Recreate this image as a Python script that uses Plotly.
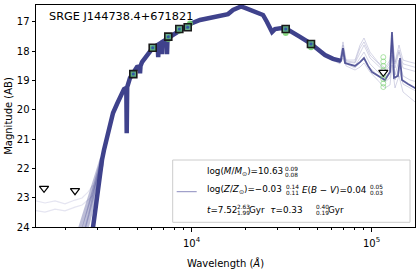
import plotly.graph_objects as go
import math

# ---------------- data ----------------
# median model spectrum
spec_wave = [2560, 2800, 2948, 3063, 3183, 3265, 3393, 3526, 3664, 3856, 4058, 4217, 4343, 4365, 4393,
             4553, 4732, 4980, 5142, 5175, 5209, 5309, 5660, 6035, 6432, 6490, 6531, 6573, 6822, 6857,
             6892, 7262, 7309, 7356, 7596, 8095, 8633, 9202, 9810, 11150, 12670, 14400, 15950, 17010,
             18130, 18840, 19830, 21690, 23410, 24960, 26270, 27300, 28010, 29100, 31830, 33930, 36640,
             40070, 45520, 50450, 55170, 61110, 66830, 67700, 69450, 71250, 80970, 86330, 90850, 95630,
             100650, 108660, 118850, 126700, 129980, 133350, 140340, 144000, 147700, 159500, 174450, 180000]
spec_mag = [25.13, 24.27, 23.25, 22.40, 21.71, 21.37, 20.96, 20.52, 20.11, 19.80, 19.53, 19.29, 19.25, 20.80, 19.22,
            18.91, 18.74, 18.54, 18.52, 18.75, 18.50, 18.37, 18.13, 17.92, 17.79, 17.78, 18.20, 17.76, 17.70, 18.10,
            17.68, 17.60, 18.10, 17.58, 17.51, 17.41, 17.27, 17.17, 17.07, 16.93, 16.85, 16.80, 16.73, 16.59,
            16.49, 16.47, 16.52, 16.63, 16.69, 16.76, 17.00, 17.24, 17.34, 17.24, 17.21, 17.24, 17.38,
            17.51, 17.72, 17.96, 18.13, 18.26, 18.33, 18.33, 17.89, 18.40, 18.50, 18.37, 18.23, 18.50,
            18.71, 18.84, 18.98, 18.71, 17.34, 18.91, 18.84, 18.23, 18.98, 19.12, 19.25, 19.30]

# UV spread of model samples
uv_wave = [2342, 2528, 2730, 2948, 3183]
uv_mag_1 = [24.27, 23.59, 22.91, 22.22, 21.64]
uv_mag_2 = [24.79, 24.03, 23.25, 22.40, 21.71]
uv_mag_3 = [25.20, 24.44, 23.59, 22.67, 21.82]

# faint far-UV samples
fuv_wave = [1300, 1535, 1745, 1983, 2253, 2465, 2661, 2837]
fuv_mag_1 = [23.08, 23.18, 23.11, 23.21, 23.08, 23.01, 22.81, 22.57]
fuv_mag_2 = [23.42, 23.49, 23.39, 23.45, 23.32, 23.25, 23.08, 22.91]

# mid-IR model samples
ir_wave = [55170, 58830, 66830, 69450, 72170, 80970, 86330, 90850, 98100, 108660, 118850,
           126700, 129980, 135080, 142140, 149620, 163620, 180000]
ir_mag_a = [18.13, 18.20, 18.30, 17.68, 18.30, 18.30, 17.79, 17.55, 18.03, 18.37, 18.57, 18.30, 17.44, 18.37, 17.79, 18.30, 18.37, 18.43]
ir_mag_b = [18.13, 18.20, 18.33, 17.89, 18.37, 18.40, 18.03, 17.79, 18.23, 18.50, 18.71, 18.50, 17.62, 18.57, 18.03, 18.57, 18.64, 18.71]
ir_mag_c = [18.13, 18.23, 18.37, 18.03, 18.40, 18.50, 18.23, 18.03, 18.43, 18.71, 18.91, 18.71, 17.79, 18.81, 18.30, 18.84, 18.98, 19.05]
ir_mag_d = [18.13, 18.23, 18.40, 18.13, 18.43, 18.57, 18.40, 18.23, 18.57, 18.84, 19.05, 18.91, 18.13, 18.98, 18.57, 19.12, 19.25, 19.39]
ir_mag_e = [18.13, 18.26, 18.43, 18.23, 18.50, 18.64, 18.54, 18.40, 18.71, 18.98, 19.25, 19.15, 18.47, 19.25, 18.84, 19.39, 19.60, 19.80]
ir_mag_f = [18.13, 18.20, 18.30, 17.79, 18.33, 18.37, 17.89, 17.68, 18.13, 18.40, 18.64, 18.40, 17.55, 18.43, 17.96, 18.43, 18.50, 18.57]

# observed photometry
phot_wave = [4750, 6087, 7431, 8556, 9526, 33370, 46110]
phot_mag = [18.78, 17.88, 17.50, 17.24, 17.18, 17.24, 17.75]

# model photometry
model_wave = [4750, 6087, 7431, 8556, 9800, 33370, 46110]
model_mag = [18.80, 17.92, 17.58, 17.30, 17.05, 17.38, 17.86]
w3_model_wave = [116300] * 8
w3_model_mag = [18.20, 18.35, 18.50, 18.65, 18.80, 18.95, 19.10, 19.22]

# upper limits
ul_wave = [1516, 2253, 116300]
ul_mag = [22.68, 22.76, 18.72]

title_text = "SRGE J144738.4+671821"
param_main = ["log(<i>M</i>/<i>M</i><sub>⊙</sub>)=10.63", "log(<i>Z</i>/<i>Z</i><sub>⊙</sub>)=−0.03",
              "<i>E</i>(<i>B</i> − <i>V</i>)=0.04", "<i>t</i>=7.52", "Gyr  <i>τ</i>=0.33", "Gyr"]
param_sup = ["0.09", "0.14", "0.05", "2.63", "0.40"]
param_sub = ["0.08", "0.11", "0.03", "1.99", "0.19"]

# ---------------- figure ----------------
BLUE = "rgb(63,66,140)"
FONT = "DejaVu Sans"
SPLIT = 67700  # beyond this the sample fan spreads and the median is thinner

fig = go.Figure()

for m in (fuv_mag_1, fuv_mag_2):
    fig.add_trace(go.Scatter(x=fuv_wave, y=m, mode="lines",
                             line=dict(color="rgba(150,150,200,0.25)", width=1.2),
                             showlegend=False, hoverinfo="skip"))

for m in (uv_mag_1, uv_mag_2, uv_mag_3):
    fig.add_trace(go.Scatter(x=uv_wave, y=m, mode="lines",
                             line=dict(color="rgba(63,66,140,0.35)", width=4),
                             showlegend=False, hoverinfo="skip"))

for m in (ir_mag_a, ir_mag_b, ir_mag_c, ir_mag_d, ir_mag_e, ir_mag_f):
    fig.add_trace(go.Scatter(x=ir_wave, y=m, mode="lines",
                             line=dict(color="rgba(63,66,140,0.22)", width=1),
                             showlegend=False, hoverinfo="skip"))

near_w = [w for w in spec_wave if w <= SPLIT]
near_m = [m for w, m in zip(spec_wave, spec_mag) if w <= SPLIT]
far_w = [w for w in spec_wave if w >= 66830]
far_m = [m for w, m in zip(spec_wave, spec_mag) if w >= 66830]

fig.add_trace(go.Scatter(x=near_w, y=near_m, mode="lines",
                         line=dict(color=BLUE, width=4.5),
                         showlegend=False, hoverinfo="skip"))
fig.add_trace(go.Scatter(x=far_w, y=far_m, mode="lines",
                         line=dict(color="rgba(63,66,140,0.85)", width=1.8),
                         showlegend=False, hoverinfo="skip"))

fig.add_trace(go.Scatter(x=w3_model_wave, y=w3_model_mag, mode="markers",
                         marker=dict(symbol="circle-open", size=5, color="rgba(120,210,110,0.6)",
                                     line=dict(color="rgba(120,210,110,0.6)", width=1)),
                         showlegend=False, hoverinfo="skip"))

fig.add_trace(go.Scatter(x=model_wave, y=model_mag, mode="markers",
                         marker=dict(symbol="circle", size=6, color="rgba(110,210,100,0.8)"),
                         showlegend=False, hoverinfo="skip"))

fig.add_trace(go.Scatter(x=phot_wave, y=phot_mag, mode="markers",
                         marker=dict(symbol="square", size=7, color="rgba(90,170,130,0.9)",
                                     line=dict(color="#1a1a1a", width=1.6)),
                         showlegend=False, hoverinfo="skip"))
fig.add_trace(go.Scatter(x=phot_wave, y=phot_mag, mode="markers",
                         marker=dict(symbol="circle", size=3, color="rgb(50,90,170)"),
                         showlegend=False, hoverinfo="skip"))

fig.add_trace(go.Scatter(x=ul_wave, y=ul_mag, mode="markers",
                         marker=dict(symbol="triangle-down", size=8, color="white",
                                     line=dict(color="black", width=1.2)),
                         showlegend=False, hoverinfo="skip"))

L, R, T, B = 36, 415, 5, 227
W, H = 417, 273


def px(x):
    return (x - L) / (R - L)


def py(y):
    return (B - y) / (B - T)


annotations = [
    dict(text=title_text, x=px(47), y=py(16), xref="paper", yref="paper",
         xanchor="left", yanchor="middle", showarrow=False,
         font=dict(family=FONT, size=11.3, color="black")),
]

main_pos = [(204.7, 171.7), (204.7, 189.5), (299.7, 189.5), (204.7, 210), (247.3, 210), (325.7, 210)]
for t, (x, y) in zip(param_main, main_pos):
    annotations.append(dict(text=t, x=px(x), y=py(y), xref="paper", yref="paper",
                            xanchor="left", yanchor="middle", showarrow=False,
                            font=dict(family=FONT, size=8.8, color="black")))

script_pos = [(282.8, 171.7), (283.5, 189.5), (368, 189.5), (234.8, 210), (313.5, 210)]
for sup, sub, (x, y) in zip(param_sup, param_sub, script_pos):
    annotations.append(dict(text=sup, x=px(x), y=py(y - 3.0), xref="paper", yref="paper",
                            xanchor="left", yanchor="middle", showarrow=False,
                            font=dict(family=FONT, size=5.8, color="black")))
    annotations.append(dict(text=sub, x=px(x), y=py(y + 3.0), xref="paper", yref="paper",
                            xanchor="left", yanchor="middle", showarrow=False,
                            font=dict(family=FONT, size=5.8, color="black")))

shapes = [
    dict(type="rect", xref="paper", yref="paper", x0=px(172.7), x1=px(410), y0=py(222.3), y1=py(160),
         line=dict(color="#cccccc", width=1), fillcolor="rgba(255,255,255,0.8)", layer="above"),
    dict(type="line", xref="paper", yref="paper", x0=px(176.7), x1=px(196.7), y0=py(191.7), y1=py(191.7),
         line=dict(color="rgb(140,140,190)", width=1), layer="above"),
]

minor_vals = [2000, 3000, 4000, 5000, 6000, 7000, 8000, 9000,
              20000, 30000, 40000, 50000, 60000, 70000, 80000, 90000]

fig.update_layout(
    width=W, height=H,
    margin=dict(l=L, r=W - R, t=T, b=H - B, autoexpand=False),
    paper_bgcolor="white", plot_bgcolor="white",
    font=dict(family=FONT, size=10, color="black"),
    annotations=annotations, shapes=shapes,
    showlegend=False, hovermode=False,
)
fig.update_xaxes(
    type="log", range=[math.log10(1368), math.log10(174450)],
    showgrid=False, zeroline=False,
    showline=True, mirror=True, linecolor="black", linewidth=1,
    ticks="outside", ticklen=3.5, tickwidth=0.8, tickcolor="black",
    tickvals=[1e4, 1e5], ticktext=["10<sup>4</sup>", "10<sup>5</sup>"],
    tickfont=dict(size=10), ticklabelstandoff=3,
    minor=dict(tickmode="array", tickvals=minor_vals, ticks="outside", ticklen=2,
               tickwidth=0.6, tickcolor="black", showgrid=False),
    title=dict(text="Wavelength (<i>Å</i>)", font=dict(size=10), standoff=12),
)
fig.update_yaxes(
    range=[24, 16.42],
    showgrid=False, zeroline=False,
    showline=True, mirror=True, linecolor="black", linewidth=1,
    ticks="outside", ticklen=3.5, tickwidth=0.8, tickcolor="black",
    tickvals=[17, 18, 19, 20, 21, 22, 23, 24],
    tickfont=dict(size=10),
    title=dict(text="Magnitude (AB)", font=dict(size=10), standoff=2),
)

fig.write_html("out.html", config={"displayModeBar": False},
               post_script="document.body.style.margin='0';")
